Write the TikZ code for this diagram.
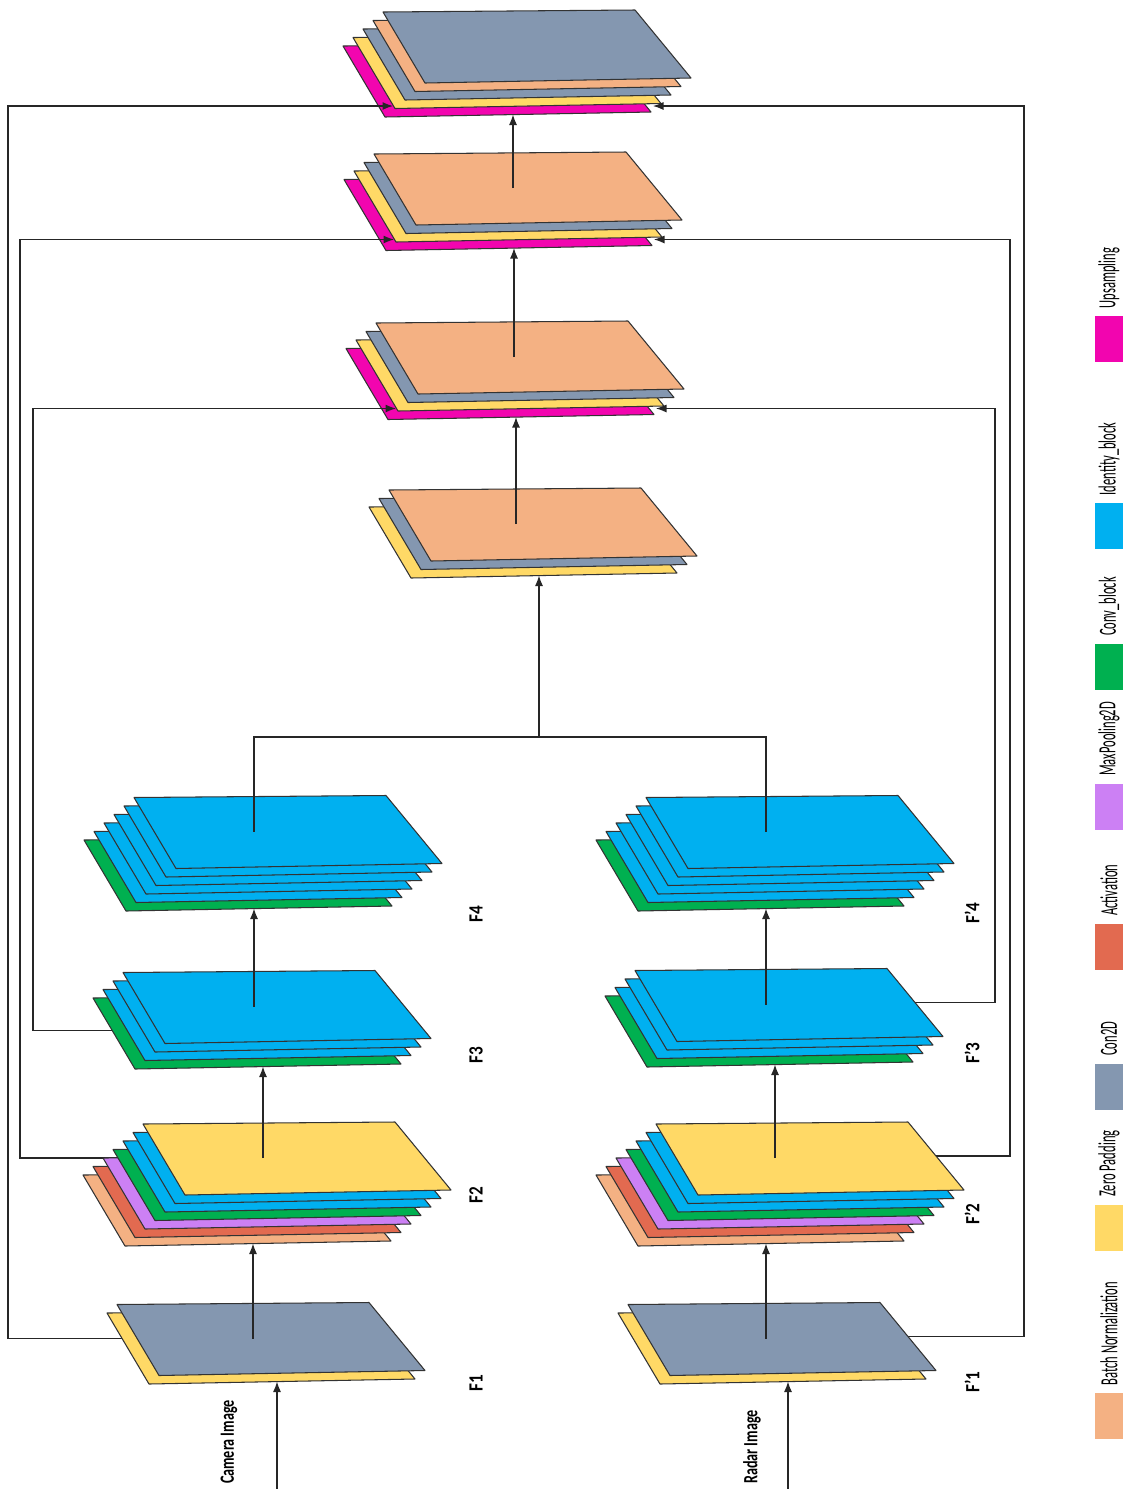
\documentclass[tikz,border=0pt]{standalone}
\usepackage{fontspec}
\setmainfont{Carlito}
\usepackage{graphicx}
\usepackage{tikz}
\usetikzlibrary{calc}
\usetikzlibrary{arrows.meta}

\definecolor{cBN}{HTML}{F4B183}
\definecolor{cZP}{HTML}{FFD966}
\definecolor{cCv}{HTML}{8497B0}
\definecolor{cAc}{HTML}{E26A50}
\definecolor{cMP}{HTML}{CC80F4}
\definecolor{cCB}{HTML}{00B050}
\definecolor{cIB}{HTML}{00B0F0}
\definecolor{cUp}{HTML}{F205AF}

\pgfdeclarelayer{bg}
\pgfsetlayers{bg,main}

\tikzset{
  layer/.style={draw=black!80, line width=0.6pt, line join=round},
  conn/.style={draw=black!85, line width=0.7pt},
  arr/.style={conn, -{Latex[length=2.1mm,width=1.6mm]}},
  flabel/.style={rotate=90, inner sep=0pt, font=\fontsize{11.5}{12}\selectfont\bfseries},
  legtxt/.style={rotate=90, inner sep=0pt, anchor=west, font=\fontsize{14}{15}\selectfont},
  swatch/.style={draw=none, minimum width=0.56cm, minimum height=0.92cm, inner sep=0pt},
}

\newcommand{\squeeze}[2]{\scalebox{#1}[1]{#2}}

% one stack of layers: name, top-left corner of the lowest layer, colours from bottom to top
\newcommand{\layerstack}[4]{%
  \foreach \lcol [count=\i from 0] in {#4} {
    \path[layer, fill=\lcol] ($(#2,#3)+(10*\i,-8.5*\i)$) -- ++(252,-2) -- ++(56,68) -- ++(-266,5) -- cycle;
    \coordinate (#1-c) at ($(#2,#3)+(10*\i,-8.5*\i)+(150,34)$);
    \coordinate (#1-l) at ($(#2,#3)+(10*\i,-8.5*\i)+(45,34)$);
    \coordinate (#1-r) at ($(#2,#3)+(10*\i,-8.5*\i)+(262,32)$);
  }
  \coordinate (#1-b) at ($(#2,#3)+(170,68.5)$);
  \coordinate (#1-il) at ($(#2,#3)+(50,60)$);
  \coordinate (#1-ir) at ($(#2,#3)+(310,60)$);
}

\begin{document}
\begin{tikzpicture}[x=0.02cm, y=-0.02cm]
\useasboundingbox (0,0) rectangle (1128,1489);

% decoder, kept under the skip arrows
\begin{pgfonlayer}{bg}
\layerstack{d1}{369}{507}{cZP,cCv,cBN}
\layerstack{d2}{346}{348.5}{cUp,cZP,cCv,cBN}
\layerstack{d3}{344}{179.5}{cUp,cZP,cCv,cBN}
\layerstack{d4}{343}{46}{cUp,cZP,cCv,cBN,cCv}
\end{pgfonlayer}

% camera branch
\layerstack{f1}{107}{1313}{cZP,cCv}
\layerstack{f2}{83}{1175}{cBN,cAc,cMP,cCB,cIB,cIB,cZP}
\layerstack{f3}{93}{998}{cCB,cIB,cIB,cIB}
\layerstack{f4}{84}{840}{cCB,cIB,cIB,cIB,cIB,cIB}
% radar branch
\layerstack{g1}{618}{1313}{cZP,cCv}
\layerstack{g2}{596}{1175}{cBN,cAc,cMP,cCB,cIB,cIB,cZP}
\layerstack{g3}{605}{996}{cCB,cIB,cIB,cIB}
\layerstack{g4}{596}{840}{cCB,cIB,cIB,cIB,cIB,cIB}

\coordinate (railA) at (8,0);
\coordinate (railB) at (20,0);
\coordinate (railC) at (33,0);
\coordinate (railD) at (1024,0);
\coordinate (railE) at (1010,0);
\coordinate (railF) at (995,0);
\coordinate (camin) at (265,1489);
\coordinate (radin) at (782,1489);
\coordinate (mrg) at (539,737);

% skip connections
\begin{pgfonlayer}{bg}
\draw[arr] (f1-l) -| (railA |- d4-il) -- (d4-il);
\draw[arr] (f2-l) -| (railB |- d3-il) -- (d3-il);
\draw[arr] ($(f3-l)+(0,24)$) -| (railC |- d2-il) -- (d2-il);
\draw[arr] (g1-r) -| (railD |- d4-ir) -- (d4-ir);
\draw[arr] (g2-r) -| (railE |- d3-ir) -- (d3-ir);
\draw[arr] (g3-r) -| (railF |- d2-ir) -- (d2-ir);
\end{pgfonlayer}

% main path
\draw[arr] (f1-b |- camin) -- (f1-b);
\draw[arr] (f2-b |- f1-c) -- (f2-b);
\draw[arr] (f3-b |- f2-c) -- (f3-b);
\draw[arr] (f4-b |- f3-c) -- (f4-b);
\draw[arr] (g1-b |- radin) -- (g1-b);
\draw[arr] (g2-b |- g1-c) -- (g2-b);
\draw[arr] (g3-b |- g2-c) -- (g3-b);
\draw[arr] (g4-b |- g3-c) -- (g4-b);
\draw[conn] (f4-b |- f4-c) |- (mrg) -| (g4-b |- g4-c);
\draw[arr] (mrg) -- (d1-b);
\draw[arr] (d2-b |- d1-c) -- (d2-b);
\draw[arr] (d3-b |- d2-c) -- (d3-b);
\draw[arr] (d4-b |- d3-c) -- (d4-b);

% labels
\node[flabel] (lf1) at (476,1383) {\squeeze{0.85}{F1}};
\node[flabel] (lf2) at (476,1195) {\squeeze{0.85}{F2}};
\node[flabel] (lf3) at (476,1055) {\squeeze{0.85}{F3}};
\node[flabel] (lf4) at (476,914) {\squeeze{0.85}{F4}};
\node[flabel] (lg1) at (972,1382) {\squeeze{0.85}{F'1}};
\node[flabel] (lg2) at (972,1214) {\squeeze{0.85}{F'2}};
\node[flabel] (lg3) at (972,1053) {\squeeze{0.85}{F'3}};
\node[flabel] (lg4) at (972,913) {\squeeze{0.85}{F'4}};
\node[flabel] (lcam) at (229,1442) {\squeeze{0.7}{Camera Image}};
\node[flabel] (lrad) at (752,1447) {\squeeze{0.7}{Radar Image}};

% legend
\foreach \col/\yy/\txt [count=\k] in {cUp/339/Upsampling, cIB/526/Identity\_block,
    cCB/666.5/Conv\_block, cMP/806.5/MaxPooling2D, cAc/946.5/Activation,
    cCv/1086.5/Con2D, cZP/1227.5/Zero Padding, cBN/1416/Batch Normalization} {
  \node[swatch, fill=\col] (key\k) at (1109,\yy) {};
  \node[legtxt] (keytxt\k) at ($(key\k.north)+(0,-7)$) {\squeeze{0.51}{\txt}};
}
\end{tikzpicture}
\end{document}
